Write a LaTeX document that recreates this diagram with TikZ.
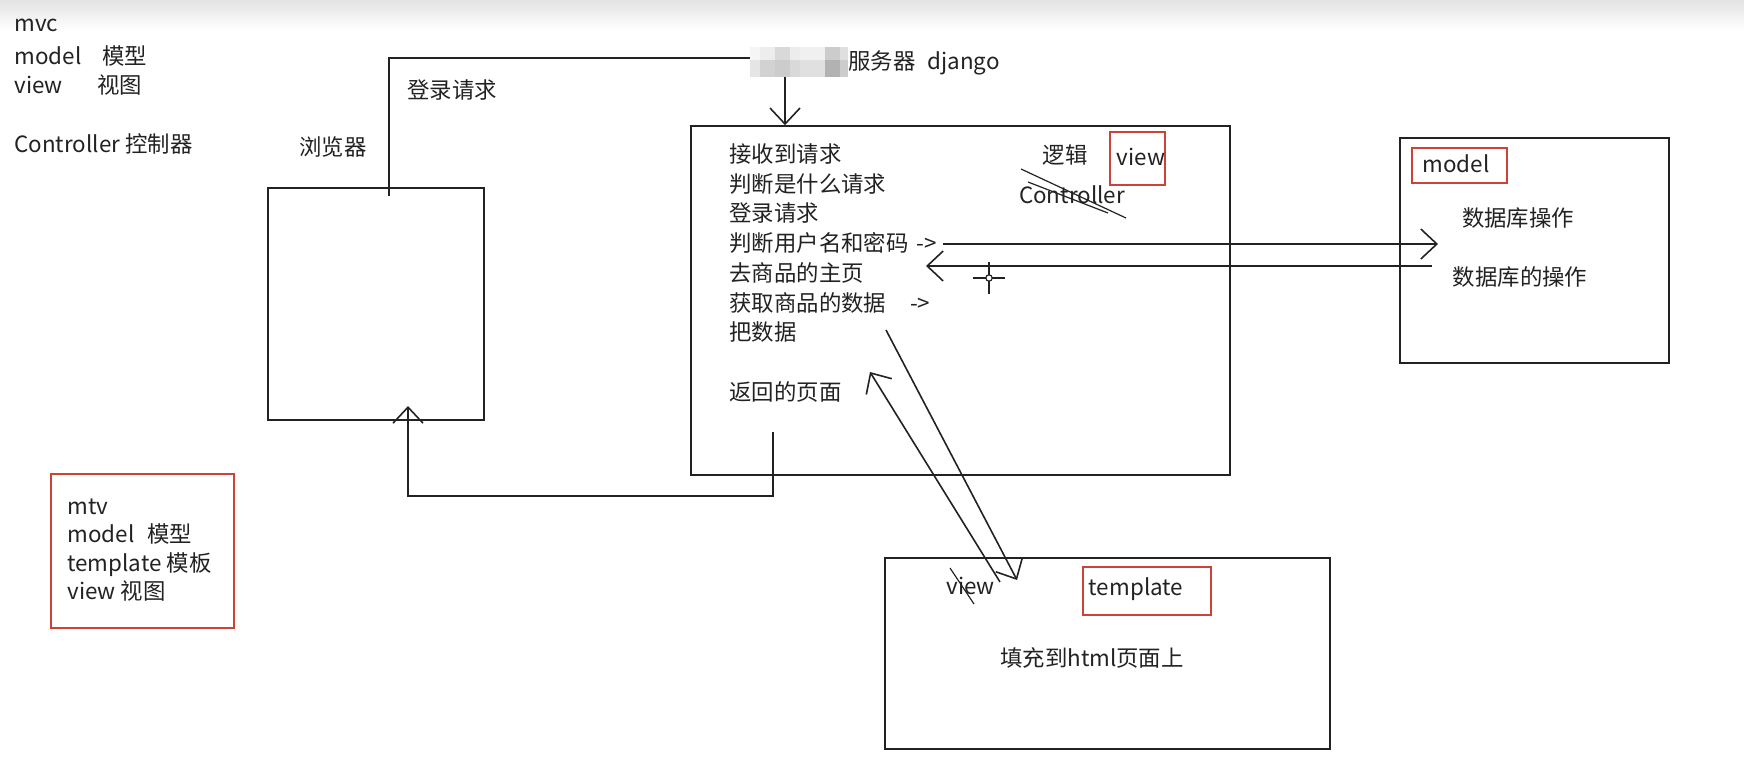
\documentclass[tikz,border=0pt]{standalone}
\usepackage{fontspec}
\setmainfont{Noto Sans CJK SC}
\usetikzlibrary{arrows.meta, positioning, fit}
\definecolor{inkgray}{RGB}{34, 34, 34}
\definecolor{markred}{RGB}{204, 66, 54}

\begin{document}
\begin{tikzpicture}[x=0.5pt, y=-0.5pt,
  txt/.style={font=\fontsize{11.2}{13}\selectfont, text=inkgray, inner sep=0pt},
  box/.style={draw=inkgray, line width=0.8pt, inner sep=0pt},
  redbox/.style={draw=markred, line width=0.9pt, inner sep=0pt},
  link/.style={draw=inkgray, line width=0.8pt},
  arr/.style={link, -{Straight Barb[length=8pt, width=15pt]}}
]
  \useasboundingbox (0,0) rectangle (1744,761);
  \shade[top color=gray!22, bottom color=white] (0,0) rectangle (1744,30);

  % mvc notes
  \node[txt, anchor=west] (mvc) at (14,25) {mvc};
  \node[txt, anchor=west] (mvcmodel) at (14,56) {\makebox[44pt][l]{model}模型};
  \node[txt, anchor=west] (mvcview) at (14,85) {\makebox[41.5pt][l]{view}视图};
  \node[txt, anchor=west] (mvcctrl) at (14,144) {Controller 控制器};

  % mtv notes
  \node[redbox, fit={(51,474) (234,628)}] (mtvbox) {};
  \foreach \i/\t in {0/mtv, 1/{\makebox[40pt][l]{model}模型}, 2/template 模板, 3/view 视图} {
    \node[txt, anchor=base west] (mtv\i) at (67, 514+28.5*\i) {\t};
  }

  % Browser
  \node[box, fit={(268,188) (484,420)}] (browser) {};
  \node[txt] (browserlbl) at (333,147) {浏览器};
  \node[txt] (loginlbl) at (452,90) {登录请求};

  % Server (blurred name)
  \node[fill=gray!12, minimum width=49pt, minimum height=15pt, inner sep=0pt] (srvblur) at (799,62) {};
  \foreach \x/\w/\up/\lo in {750/10/8/20, 760/15/14/35, 775/15/30/40, 790/10/15/30,
                             800/25/12/24, 825/15/40/60, 840/8/25/40} {
    \fill[gray!\up] (\x,47) rectangle ++(\w,13);
    \fill[gray!\lo] (\x,60) rectangle ++(\w,17);
  }
  \node[txt, anchor=west] (srvlbl) at (848,63) {服务器\hspace{6pt}django};
  \node[box, fit={(691,126) (1230,475)}] (server) {};
  \foreach \i/\t in {0/接收到请求, 1/判断是什么请求, 2/登录请求, 3/判断用户名和密码\hspace{4pt}->,
                     4/去商品的主页, 5/获取商品的数据\hspace{12pt}->, 6/把数据} {
    \node[txt, anchor=west] (s\i) at (729, 154+29.7*\i) {\t};
  }
  \node[txt, anchor=west] (sret) at (729,392) {返回的页面};
  \node[txt] (logic) at (1065,155) {逻辑};
  \node[redbox, fit={(1110,132) (1165,185)}] (viewbox) {};
  \node[txt] (viewlbl) at (1141,157) {view};
  \node[txt] (ctrllbl) at (1072,195) {Controller};
  \draw[link, line width=0.6pt] (1021,169) -- (1126,218);
  \draw[link, line width=0.6pt] (1028,182) -- (1108,213);

  % Model
  \node[box, fit={(1400,138) (1669,363)}] (model) {};
  \node[redbox, fit={(1412,148) (1507,183)}] (modelbox) {};
  \node[txt] (modellbl) at (1456,164) {model};
  \node[txt] (db1) at (1518,218) {数据库操作};
  \node[txt] (db2) at (1520,277) {数据库的操作};

  % Template
  \node[box, fit={(885,558) (1330,749)}] (template) {};
  \node[txt, anchor=west] (tplview) at (946,586) {view};
  \draw[link, line width=0.6pt] (950,568) -- (974,604);
  \node[redbox, fit={(1083,567) (1211,615)}] (tplbox) {};
  \node[txt] (tpllbl) at (1136,589) {template};
  \node[txt] (fillhtml) at (1092,658) {填充到html页面上};

  % Connectors
  \coordinate (loginstart) at (389,196);
  \coordinate (loginend) at (750,58);
  \draw[link] (loginstart) |- (loginend);
  \coordinate (srvdrop) at (785,77);
  \draw[arr] (srvdrop) -- (srvdrop |- server.north);
  \coordinate (checkout) at (943,244);
  \coordinate (checkin) at (1438,244);
  \draw[arr] (checkout) -- (checkin);
  \coordinate (dbout) at (1432,266);
  \coordinate (dbin) at (926,266);
  \draw[arr] (dbout) -- (dbin);
  \coordinate (fillout) at (886,330);
  \coordinate (fillin) at (1017,580);
  \draw[arr] (fillout) -- (fillin);
  \coordinate (pageout) at (1000,582);
  \coordinate (pagein) at (870,372);
  \draw[arr] (pageout) -- (pagein);
  \coordinate (retout) at (773,432);
  \coordinate (retin) at (408,406);
  \draw[arr] (retout) -- ++(0,64) -| (retin);

  % Cursor
  \coordinate (cursor) at (989,278);
  \draw[link, line width=0.6pt] (cursor) ++(-16,0) -- ++(32,0);
  \draw[link, line width=0.6pt] (cursor) ++(0,-16) -- ++(0,32);
  \draw[link, line width=0.6pt, fill=white] (cursor) circle[radius=1.6pt];
\end{tikzpicture}
\end{document}
